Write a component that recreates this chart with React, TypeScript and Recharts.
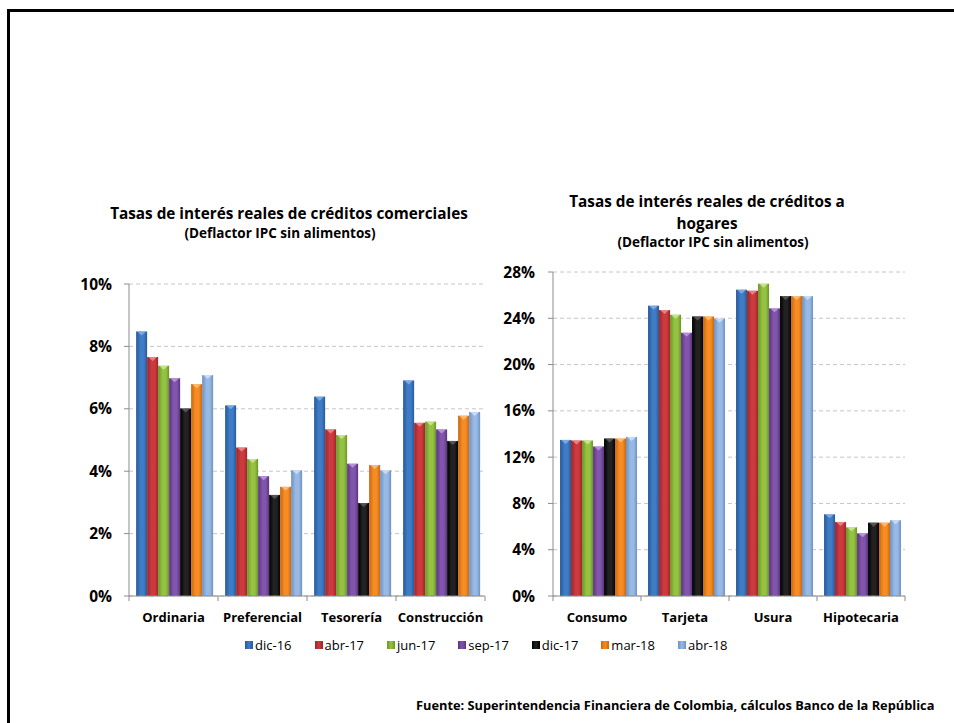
import React from "react";
import { BarChart, Bar, XAxis, YAxis, CartesianGrid } from "recharts";

// series (periods)
const SERIES = ["dic-16", "abr-17", "jun-17", "sep-17", "dic-17", "mar-18", "abr-18"];

// comerciales (%), one array per category, in series order
const COM_CATS = ["Ordinaria", "Preferencial", "Tesorería", "Construcción"];
const ordinaria = [8.48, 7.66, 7.38, 6.98, 6.01, 6.79, 7.08];
const preferencial = [6.11, 4.76, 4.39, 3.84, 3.24, 3.5, 4.03];
const tesoreria = [6.39, 5.34, 5.16, 4.24, 2.98, 4.2, 4.03];
const construccion = [6.91, 5.55, 5.59, 5.34, 4.97, 5.78, 5.9];
const COM_TICKS = [0, 2, 4, 6, 8, 10];

// hogares (%)
const HOG_CATS = ["Consumo", "Tarjeta", "Usura", "Hipotecaria"];
const consumo = [13.49, 13.44, 13.44, 12.92, 13.61, 13.61, 13.75];
const tarjeta = [25.09, 24.71, 24.31, 22.75, 24.16, 24.16, 23.96];
const usura = [26.47, 26.38, 26.99, 24.86, 25.92, 25.92, 25.92];
const hipotecaria = [7.06, 6.4, 5.94, 5.42, 6.34, 6.34, 6.55];
const HOG_TICKS = [0, 4, 8, 12, 16, 20, 24, 28];

// [edge, middle, cap]
const COLORS = [
  ["#28599a", "#3e7cc6", "#8fb8ea"],
  ["#9a2629", "#cc3a3e", "#ee9a9a"],
  ["#6b9526", "#96c243", "#d4ee9c"],
  ["#5a3580", "#8155ab", "#c3a6e2"],
  ["#000000", "#222222", "#666666"],
  ["#c9660f", "#f68d24", "#fcc98c"],
  ["#6d91c2", "#98b9e4", "#d6e6fa"],
];

const FONT = "'Open Sans', Lato, sans-serif";

function buildRows(cats: string[], groups: number[][]) {
  return cats.map((c, ci) => {
    const row: Record<string, string | number> = { cat: c };
    SERIES.forEach((s, si) => (row[s] = groups[ci][si]));
    return row;
  });
}

const comData = buildRows(COM_CATS, [ordinaria, preferencial, tesoreria, construccion]);
const hogData = buildRows(HOG_CATS, [consumo, tarjeta, usura, hipotecaria]);

const makeTick = (half: number, last: number) => (props: any) => {
  const { x, y, payload, index } = props;
  return (
    <g>
      <line x1={x - half} x2={x - half} y1={y} y2={y + 5} stroke="#8c8c8c" />
      {index === last && <line x1={x + half} x2={x + half} y1={y} y2={y + 5} stroke="#8c8c8c" />}
      <text x={x} y={y + 21} textAnchor="middle" dominantBaseline="central" fontFamily={FONT} fontWeight={700} fontSize={13} fill="#000">
        {payload.value}
      </text>
    </g>
  );
};

const barShape = (si: number, prefix: string) => (p: any) => {
  const { x, y, width, height } = p;
  if (!height || height <= 0) return <g />;
  return (
    <g>
      <rect x={x} y={y} width={width} height={height} fill={`url(#${prefix}-g${si})`} />
      <polygon points={`${x + 1},${y} ${x + width - 1},${y} ${x + width / 2},${y + 4}`} fill={COLORS[si][2]} opacity={0.75} />
    </g>
  );
};

function Chart({ id, data, ticks, width, height, yWidth, tickMargin }: any) {
  const plotW = width - yWidth - 15;
  const half = plotW / data.length / 2;
  return (
    <BarChart width={width} height={height} data={data} margin={{ top: 14, right: 15, left: 0, bottom: 0 }}
      barCategoryGap="8%" barGap={0}>
      <defs>
        {COLORS.map((c, i) => (
          <linearGradient key={i} id={`${id}-g${i}`} x1="0" y1="0" x2="1" y2="0">
            <stop offset="0%" stopColor={c[0]} />
            <stop offset="40%" stopColor={c[1]} />
            <stop offset="70%" stopColor={c[1]} />
            <stop offset="100%" stopColor={c[0]} />
          </linearGradient>
        ))}
      </defs>
      <CartesianGrid vertical={false} stroke="#c6c6c6" strokeDasharray="4 3" />
      <XAxis dataKey="cat" height={34} tickLine={false} tickSize={0} tickMargin={0} stroke="#8c8c8c"
        interval={0} tick={makeTick(half, data.length - 1)} />
      <YAxis width={yWidth} domain={[0, ticks[ticks.length - 1]]} ticks={ticks} interval={0}
        tickFormatter={(v) => `${v}%`} stroke="#8c8c8c" tickSize={5} tickMargin={tickMargin}
        tick={{ fontFamily: FONT, fontWeight: 700, fontSize: 15.5, fill: "#000" }} />
      {SERIES.map((s, i) => (
        <Bar key={s} dataKey={s} isAnimationActive={false} fill={COLORS[i][1]} shape={barShape(i, id)} />
      ))}
    </BarChart>
  );
}

const titleStyle: React.CSSProperties = {
  position: "absolute", textAlign: "center", fontFamily: FONT, fontWeight: 700, color: "#000", whiteSpace: "nowrap",
};

export default function App() {
  return (
    <div style={{ position: "fixed", left: 0, top: 0, width: 954, height: 723, overflow: "hidden", background: "#fff" }}>
      <div style={{ position: "absolute", left: 7, top: 9, width: 1000, height: 1000, border: "3px solid #000" }} />

      {/* left title */}
      <div style={{ ...titleStyle, left: 89, width: 400, top: 203, fontSize: 15.3, lineHeight: "20px" }}>
        Tasas de interés reales de créditos comerciales
      </div>
      <div style={{ ...titleStyle, left: 80, width: 400, top: 225, fontSize: 13.5, lineHeight: "16px" }}>
        (Deflactor IPC sin alimentos)
      </div>

      {/* right title */}
      <div style={{ ...titleStyle, left: 507, width: 400, top: 190, fontSize: 15.3, lineHeight: "22px" }}>
        Tasas de interés reales de créditos a<br />hogares
      </div>
      <div style={{ ...titleStyle, left: 513, width: 400, top: 234, fontSize: 13.5, lineHeight: "16px" }}>
        (Deflactor IPC sin alimentos)
      </div>

      <div style={{ position: "absolute", left: 60, top: 270 }}>
        <Chart id="com" data={comData} ticks={COM_TICKS} width={440} height={360} yWidth={69} tickMargin={12} />
      </div>
      <div style={{ position: "absolute", left: 490, top: 258 }}>
        <Chart id="hog" data={hogData} ticks={HOG_TICKS} width={430} height={372} yWidth={63} tickMargin={13} />
      </div>

      {/* shared legend */}
      <div style={{ position: "absolute", left: 245, top: 636, display: "flex", gap: 23, fontFamily: FONT, fontSize: 13, color: "#000", whiteSpace: "nowrap" }}>
        {SERIES.map((s, i) => (
          <div key={s} style={{ display: "flex", alignItems: "center", gap: 2 }}>
            <span style={{ display: "inline-block", width: 8, height: 8, background: `linear-gradient(90deg, ${COLORS[i][0]}, ${COLORS[i][1]}, ${COLORS[i][0]})` }} />
            <span>{s}</span>
          </div>
        ))}
      </div>

      <div style={{ position: "absolute", left: 416, top: 696, fontFamily: FONT, fontWeight: 700, fontSize: 12.8, whiteSpace: "nowrap", color: "#000" }}>
        Fuente: Superintendencia Financiera de Colombia, cálculos Banco de la República
      </div>
    </div>
  );
}
